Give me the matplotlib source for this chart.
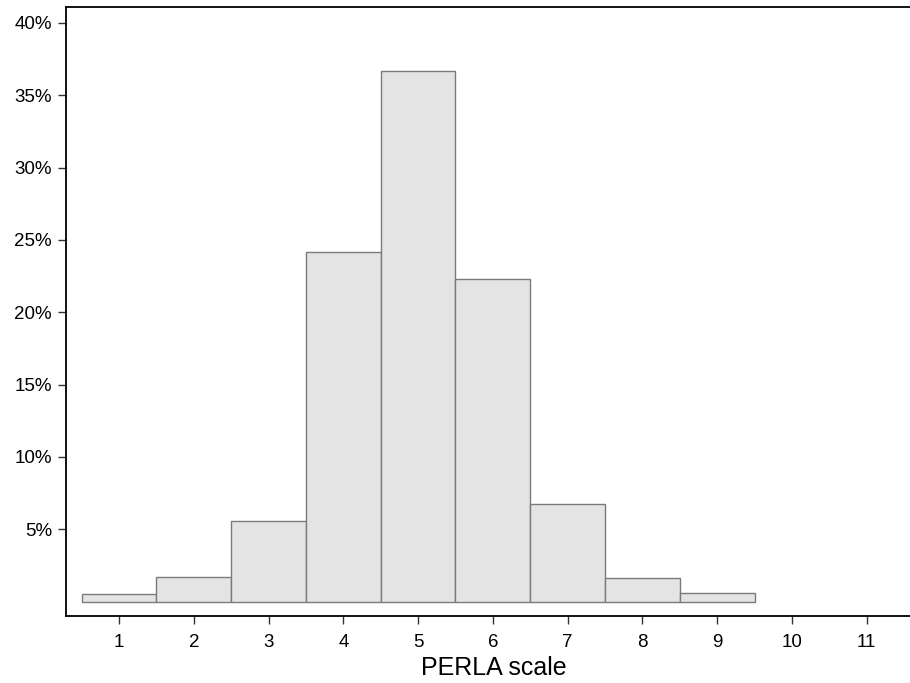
import matplotlib
matplotlib.use("Agg")
import matplotlib.pyplot as plt
from matplotlib.ticker import FuncFormatter

plt.rcParams['font.family'] = ['Liberation Sans', 'DejaVu Sans']

categories = [1, 2, 3, 4, 5, 6, 7, 8, 9]
percents = [0.55, 1.68, 5.55, 24.18, 36.7, 22.3, 6.75, 1.65, 0.6]
x_ticks = [1, 2, 3, 4, 5, 6, 7, 8, 9, 10, 11]
y_ticks = [5, 10, 15, 20, 25, 30, 35, 40]

fig = plt.figure(figsize=(9.1, 6.83), dpi=100)
ax = fig.add_axes([66/910, 1 - 616/683, 1 - 66/910, (616 - 7)/683])

ax.bar(categories, percents, width=1.0, color='#e4e4e4', edgecolor='#7a7a7a', linewidth=1.0)

ax.set_xlim(0.29, 11.58)
ax.set_ylim(-1.0, 41.1)
ax.set_xticks(x_ticks)
ax.set_yticks(y_ticks)
ax.yaxis.set_major_formatter(FuncFormatter(lambda v, p: f"{int(v)}%"))
ax.tick_params(axis='both', labelsize=13.5, length=6, width=1, color='#333333')
ax.tick_params(axis='x', pad=7)
ax.tick_params(axis='y', pad=4)
ax.set_xlabel('PERLA scale', fontsize=18)
ax.xaxis.set_label_coords((494 - 66) / 844, (616 - 675) / 609)
ax.xaxis.label.set_va('baseline')

for s in ['left', 'bottom', 'top']:
    ax.spines[s].set_linewidth(1.3)
    ax.spines[s].set_color('black')
ax.spines['right'].set_visible(False)

fig.savefig('out.png', dpi=100)
